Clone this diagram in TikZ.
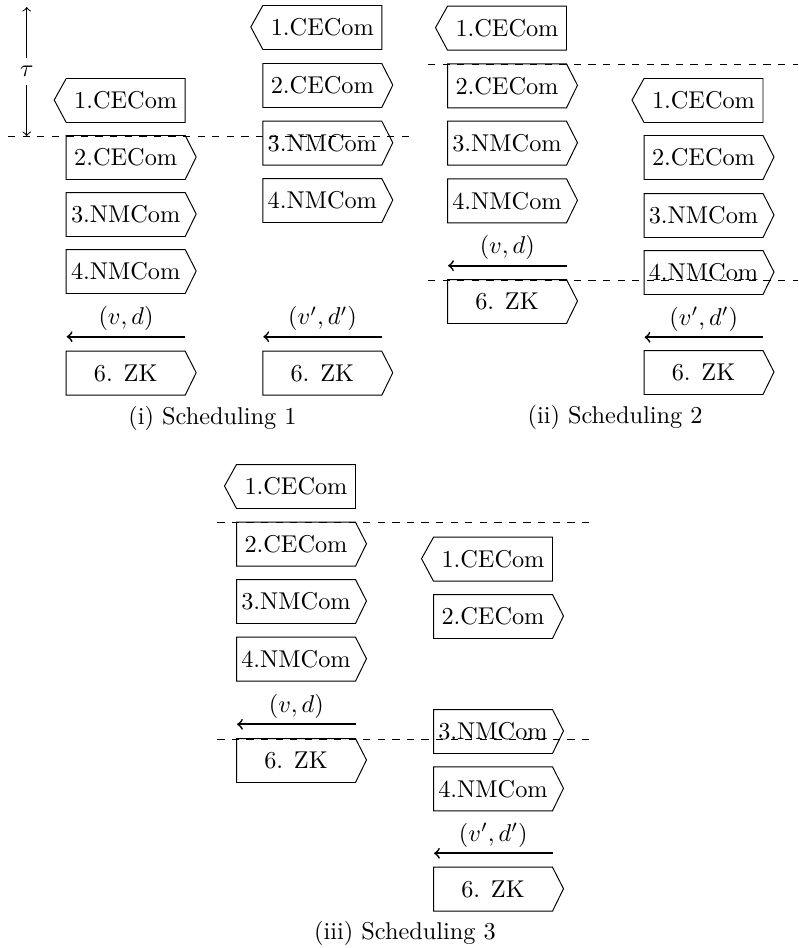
\documentclass[tikz,border=0pt]{standalone}
\newcommand{\sigboxE}[4]{%
  \node[boxtext] (#1) at ({#2+59},{#3+21.5}) {#4};
  \draw[boxline] (#1.north west) -- (#1.north east) -- ++(11,21.5) -- (#1.south east) -- (#1.south west) -- cycle;}
\newcommand{\sigboxW}[4]{%
  \node[boxtext] (#1) at ({#2+59},{#3+21.5}) {#4};
  \draw[boxline] (#1.north east) -- (#1.north west) -- ++(-12,21.5) -- (#1.south west) -- (#1.south east) -- cycle;}
\begin{document}
\begin{tikzpicture}[x=0.41152pt,y=-0.41152pt,
  boxtext/.style={inner sep=0pt, minimum width=48.56pt, minimum height=17.7pt},
  boxline/.style={draw, line width=0.4pt},
  cut/.style={dashed, line width=0.4pt},
  msg/.style={->, line width=0.7pt},
  lbl/.style={midway, yshift=7.4pt, inner sep=0pt}]
\useasboundingbox (0,0) rectangle (799,948);

% tau
\coordinate (tt) at (26.7,7);
\coordinate (tb) at (26.7,136);
\draw[<->] (tt) -- node[fill=white] (tau) {$\tau$} (tb);

% (i) column 1
\sigboxW{a1}{66.7}{79}{1.CECom}
\sigboxE{a2}{66.7}{136}{2.CECom}
\sigboxE{a3}{66.7}{193}{3.NMCom}
\sigboxE{a4}{66.7}{250}{4.NMCom}
\sigboxE{a6}{66.7}{351.7}{6. ZK}
\coordinate (a5r) at (185.3,336.7);
\coordinate (a5l) at (66.7,336.7);
\draw[msg] (a5r) -- node[lbl] (la) {$(v,d)$} (a5l);

% (i) column 2
\sigboxW{b1}{263.3}{6}{1.CECom}
\sigboxE{b2}{263.3}{64}{2.CECom}
\sigboxE{b3}{263.3}{121.7}{3.NMCom}
\sigboxE{b4}{263.3}{179}{4.NMCom}
\sigboxE{b6}{263.3}{351.7}{6. ZK}
\coordinate (b5r) at (381.8,336.7);
\coordinate (b5l) at (263.3,336.7);
\draw[msg] (b5r) -- node[lbl] (lb) {$(v',d')$} (b5l);

\coordinate (d1l) at (8,136);
\coordinate (d1r) at (415,136);
\draw[cut] (d1l) -- (d1r);
\node (cap1) at (212.5,418) {(i) Scheduling 1};

% (ii) left
\sigboxW{c1}{448}{6.7}{1.CECom}
\sigboxE{c2}{448}{64.3}{2.CECom}
\sigboxE{c3}{448}{121.7}{3.NMCom}
\sigboxE{c4}{448}{179.3}{4.NMCom}
\sigboxE{c6}{448}{280}{6. ZK}
\coordinate (c5r) at (566.5,265.7);
\coordinate (c5l) at (448,265.7);
\draw[msg] (c5r) -- node[lbl] (lc) {$(v,d)$} (c5l);

% (ii) right
\sigboxW{e1}{644.5}{79}{1.CECom}
\sigboxE{e2}{644.5}{136}{2.CECom}
\sigboxE{e3}{644.5}{194}{3.NMCom}
\sigboxE{e4}{644.5}{251}{4.NMCom}
\sigboxE{e6}{644.5}{351}{6. ZK}
\coordinate (e5r) at (763,337.3);
\coordinate (e5l) at (644.5,337.3);
\draw[msg] (e5r) -- node[lbl] (le) {$(v',d')$} (e5l);

\coordinate (d2l) at (428,64.3);
\coordinate (d2r) at (798,64.3);
\draw[cut] (d2l) -- (d2r);
\coordinate (d3l) at (428,280);
\coordinate (d3r) at (798,280);
\draw[cut] (d3l) -- (d3r);
\node (cap2) at (615,417) {(ii) Scheduling 2};

% (iii) left
\sigboxW{f1}{237}{465}{1.CECom}
\sigboxE{f2}{237}{522.7}{2.CECom}
\sigboxE{f3}{237}{580}{3.NMCom}
\sigboxE{f4}{237}{637.7}{4.NMCom}
\sigboxE{f6}{237}{739}{6. ZK}
\coordinate (f5r) at (355.7,724.3);
\coordinate (f5l) at (237,724.3);
\draw[msg] (f5r) -- node[lbl] (lf) {$(v,d)$} (f5l);

% (iii) right
\sigboxW{g1}{434}{537.7}{1.CECom}
\sigboxE{g2}{434}{595}{2.CECom}
\sigboxE{g3}{434}{710}{3.NMCom}
\sigboxE{g4}{434}{767.3}{4.NMCom}
\sigboxE{g6}{434}{867.7}{6. ZK}
\coordinate (g5r) at (552.5,853.3);
\coordinate (g5l) at (434,853.3);
\draw[msg] (g5r) -- node[lbl] (lg) {$(v',d')$} (g5l);

\coordinate (d4l) at (217.3,522.7);
\coordinate (d4r) at (593,522.7);
\draw[cut] (d4l) -- (d4r);
\coordinate (d5l) at (217.3,739);
\coordinate (d5r) at (593,739);
\draw[cut] (d5l) -- (d5r);
\node (cap3) at (405,933) {(iii) Scheduling 3};
\end{tikzpicture}
\end{document}
